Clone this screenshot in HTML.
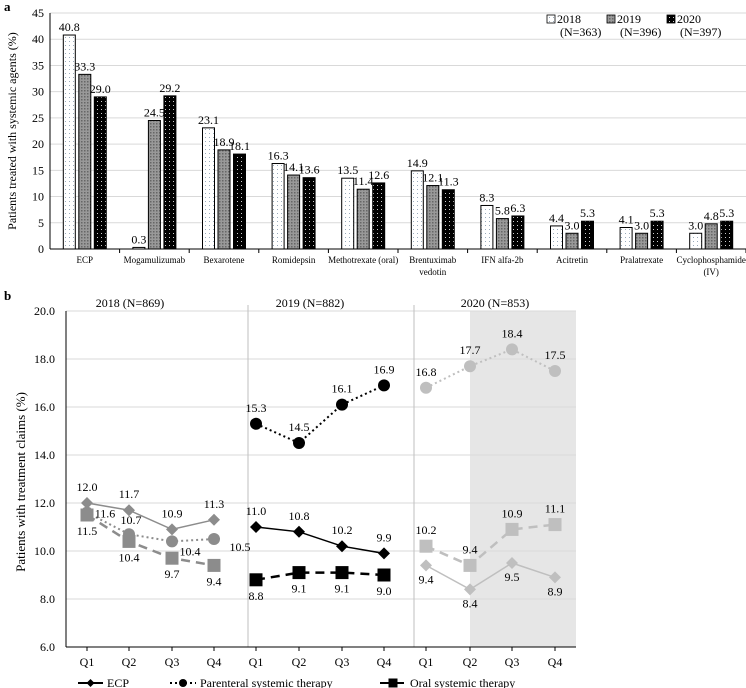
<!DOCTYPE html>
<html><head><meta charset="utf-8">
<style>
html,body{margin:0;padding:0;background:#fff;}
svg{display:block;font-family:"Liberation Serif",serif;}
</style></head>
<body>
<svg id="chart" width="746" height="688" viewBox="0 0 746 688" xmlns="http://www.w3.org/2000/svg">
<defs>
<pattern id="p2018" width="4" height="4" patternUnits="userSpaceOnUse"><rect width="4" height="4" fill="#fff"/><rect x="1" y="1" width="1" height="1" fill="#9ab"/></pattern>
<pattern id="p2019" width="3" height="3" patternUnits="userSpaceOnUse"><rect width="3" height="3" fill="#999"/><rect x="0" y="0" width="1.5" height="1.5" fill="#666"/></pattern>
<pattern id="p2020" width="4" height="4" patternUnits="userSpaceOnUse"><rect width="4" height="4" fill="#000"/><rect x="1" y="1" width="1" height="1" fill="#ccc"/></pattern>
</defs>
<g id="a"></g>
<g id="b"></g>
</svg>
<script>
// ---- Chart a data ----
const catsA = ["ECP","Mogamulizumab","Bexarotene","Romidepsin","Methotrexate (oral)","Brentuximab|vedotin","IFN alfa-2b","Acitretin","Pralatrexate","Cyclophosphamide|(IV)"];
const v2018 = [40.8,0.3,23.1,16.3,13.5,14.9,8.3,4.4,4.1,3.0];
const v2019 = [33.3,24.5,18.9,14.1,11.4,12.1,5.8,3.0,3.0,4.8];
const v2020 = [29.0,29.2,18.1,13.6,12.6,11.3,6.3,5.3,5.3,5.3];
const ticksA = [0,5,10,15,20,25,30,35,40,45];
// ---- Chart b data ----
const quarters = ["Q1","Q2","Q3","Q4"];
const years = ["2018 (N=869)","2019 (N=882)","2020 (N=853)"];
const ecp = [[12.0,11.7,10.9,11.3],[11.0,10.8,10.2,9.9],[9.4,8.4,9.5,8.9]];
const parenteral = [[11.6,10.7,10.4,10.5],[15.3,14.5,16.1,16.9],[16.8,17.7,18.4,17.5]];
const oral = [[11.5,10.4,9.7,9.4],[8.8,9.1,9.1,9.0],[10.2,9.4,10.9,11.1]];
const ticksB = [6,8,10,12,14,16,18,20];

const NS="http://www.w3.org/2000/svg";
function mk(tag,attrs,parent){const e=document.createElementNS(NS,tag);for(const k in attrs)e.setAttribute(k,attrs[k]);parent.appendChild(e);return e;}
function txt(s,x,y,size,anchor,parent,fill){const t=mk("text",{x:x,y:y,"font-size":size,"text-anchor":anchor||"middle",fill:fill||"#000"},parent);t.textContent=s;return t;}

// ===== Chart a =====
const ga=document.getElementById("a");
const ax0=50, ax1=746, ay0=249, ay1=13;
const yA=v=>ay0-(v/45)*(ay0-ay1);
const catW=(ax1-ax0)/catsA.length;
const xA=i=>ax0+catW*(i+0.5);
let t=txt("a",4,11,13,"start",ga);t.setAttribute("font-weight","bold");


ticksA.forEach(v=>{
  if(v>0){const l=mk("line",{x1:ax0,x2:ax1,y1:yA(v),y2:yA(v),stroke:"#d9d9d9","stroke-width":1},ga);
  
  }
  const tt=txt(String(v),44,yA(v)+4,12,"end",ga);
  
  
});
let ya=mk("line",{x1:ax0,x2:ax0,y1:ay1,y2:ay0,stroke:"#000"},ga);


let xa=mk("line",{x1:ax0,x2:ax1,y1:ay0,y2:ay0,stroke:"#000"},ga);


t=txt("Patients treated with systemic agents (%)",0,0,12,"middle",ga);
t.setAttribute("transform","translate(16,131) rotate(-90)");


const series=[[v2018,"url(#p2018)","2018"],[v2019,"url(#p2019)","2019"],[v2020,"url(#p2020)","2020"]];
const bw=12, bg=3.5;
catsA.forEach((c,i)=>{
  const cx=xA(i);
  mk("line",{x1:ax0+catW*(i+1),x2:ax0+catW*(i+1),y1:ay0,y2:ay0+4,stroke:"#000"},ga);
  series.forEach((s,j)=>{
    const x=cx+(j-1)*(bw+bg)-bw/2;
    const r=mk("rect",{x:x,y:yA(s[0][i]),width:bw,height:ay0-yA(s[0][i]),fill:s[1],stroke:"#000","stroke-width":1},ga);
    
    
    const lb=txt(s[0][i].toFixed(1),x+bw/2,yA(s[0][i])-4,12,"middle",ga);
    
    
  });
  c.split("|").forEach((line,k)=>{
    const cl=txt(line,cx,263+k*12,9,"middle",ga);
    
    
  });
});
// legend a
const legA=[["2018","(N=363)",550],["2019","(N=396)",610],["2020","(N=397)",670]];
legA.forEach((l,j)=>{
  const g=mk("g",{},ga);
  
  
  mk("rect",{x:l[2]-3,y:15,width:8,height:8,fill:series[j][1],stroke:"#000","stroke-width":0.8},g);
  txt(l[0],l[2]+7,23,12,"start",g);
  txt(l[1],l[2]+10,36,12,"start",g);
});

// ===== Chart b =====
const gb=document.getElementById("b");
const bx0=66, bx1=576, by6=647;
const yB=v=>by6-(v-6)*24;
const qx=[[87,129,172,214],[256,299,342,384],[426,470,512,555]];
const xB=(yi,qi)=>qx[yi][qi];
t=txt("b",4,300,13,"start",gb);t.setAttribute("font-weight","bold");


let sh=mk("rect",{x:470,y:yB(20),width:bx1-470,height:by6-yB(20),fill:"#e6e6e6"},gb);


ticksB.forEach(v=>{
  if(v>6){const l=mk("line",{x1:bx0,x2:bx1,y1:yB(v),y2:yB(v),stroke:"#d9d9d9"},gb);
  
  }
  const tt=txt(v.toFixed(1),55,yB(v)+4,12,"end",gb);
  
  
});
[248,414].forEach(x=>{const l=mk("line",{x1:x,x2:x,y1:yB(20)-6,y2:by6,stroke:"#bfbfbf"},gb);

});
let yb=mk("line",{x1:bx0,x2:bx0,y1:yB(20),y2:by6,stroke:"#000"},gb);


let xb=mk("line",{x1:bx0,x2:bx1,y1:by6,y2:by6,stroke:"#000"},gb);


t=txt("Patients with treatment claims (%)",0,0,13,"middle",gb);
t.setAttribute("transform","translate(25,482) rotate(-90)");


const yrX=[130,310,495];
years.forEach((y,i)=>{const tt=txt(y,yrX[i],307,12,"middle",gb);

});
qx.forEach(arr=>arr.forEach((x,qi)=>{
  mk("line",{x1:x,x2:x,y1:by6,y2:by6+4,stroke:"#000"},gb);
  const tt=txt(quarters[qi],x,666,12,"middle",gb);
  
  
}));
const yearColors=["#8c8c8c","#000","#bfbfbf"];
const offE=[[[0,-12],[0,-12],[0,-12],[0,-12]],[[0,-12],[0,-12],[0,-12],[0,-12]],[[0,18],[0,18],[0,18],[0,18]]];
const offP=[[[18,5],[2,-10],[18,14],[26,12]],[[0,-12],[0,-12],[0,-12],[0,-12]],[[0,-12],[0,-12],[0,-12],[0,-12]]];
const offO=[[[0,20],[0,20],[0,20],[0,20]],[[0,20],[0,20],[0,20],[0,20]],[[0,-12],[0,-12],[0,-12],[0,-12]]];
function marker(kind,x,y,c,g,s){
  s=s||6;
  if(kind==="d")return mk("polygon",{points:`${x},${y-s} ${x+s},${y} ${x},${y+s} ${x-s},${y}`,fill:c},g);
  if(kind==="c")return mk("circle",{cx:x,cy:y,r:s,fill:c},g);
  return mk("rect",{x:x-s-0.5,y:y-s-0.5,width:2*s+1,height:2*s+1,fill:c},g);
}
function drawSeries(data,kind,dash,width,offs,name){
  data.forEach((vals,yi)=>{
    const c=yearColors[yi];
    const pts=vals.map((v,qi)=>xB(yi,qi)+","+yB(v)).join(" ");
    const pl=mk("polyline",{points:pts,fill:"none",stroke:c,"stroke-width":width,"stroke-dasharray":dash},gb);
    
    
    vals.forEach((v,qi)=>{
      const m=marker(kind,xB(yi,qi),yB(v),c,gb);
      
      
      const o=offs[yi][qi];
      const lb=txt(v.toFixed(1),xB(yi,qi)+o[0],yB(v)+o[1],12,"middle",gb);
      
      
    });
  });
}
drawSeries(ecp,"d","none",1.5,offE,"ecp");
drawSeries(parenteral,"c","2,3",2,offP,"parenteral");
drawSeries(oral,"s","9,6",2.5,offO,"oral");
// legend b
const lg=[["ECP","d","none",78,107],["Parenteral systemic therapy","c","2,3",170,200],["Oral systemic therapy","s","9,6",380,410]];
lg.forEach(l=>{
  const g=mk("g",{},gb);
  
  
  mk("line",{x1:l[3],x2:l[4]-4,y1:683,y2:683,stroke:"#000","stroke-width":2,"stroke-dasharray":l[2]},g);
  marker(l[1],(l[3]+l[4]-4)/2,683,"#000",g,4);
  txt(l[0],l[4],687,12,"start",g);
});
</script>
</body></html>
